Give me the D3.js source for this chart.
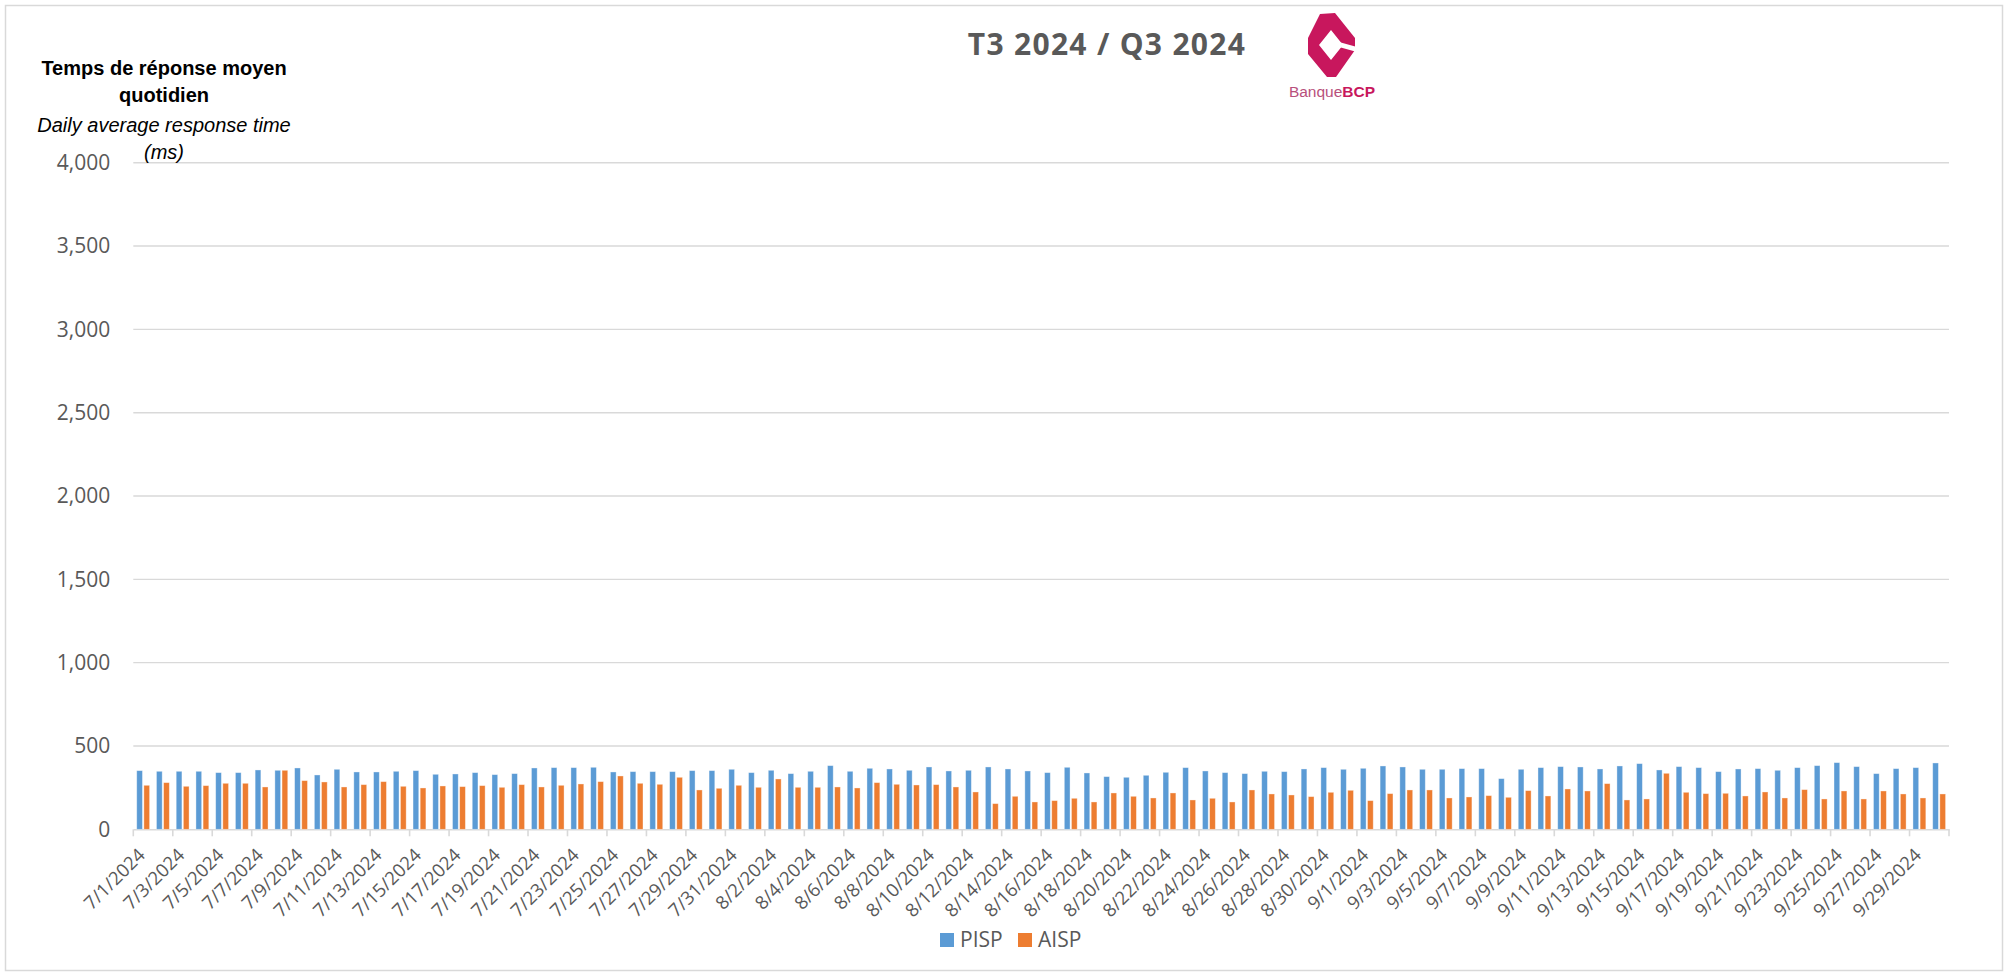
<!DOCTYPE html>
<html>
<head>
<meta charset="utf-8">
<script src="https://cdn.jsdelivr.net/npm/d3@7"></script>
<style>
  body { margin: 0; background: #fff; }
  svg { display: block; }
</style>
</head>
<body>
<script>
'use strict';

(function() {

  // categories: one per day, T3 / Q3 2024
  const dates = [
    "7/1/2024","7/2/2024","7/3/2024","7/4/2024","7/5/2024","7/6/2024","7/7/2024","7/8/2024",
    "7/9/2024","7/10/2024","7/11/2024","7/12/2024","7/13/2024","7/14/2024","7/15/2024","7/16/2024",
    "7/17/2024","7/18/2024","7/19/2024","7/20/2024","7/21/2024","7/22/2024","7/23/2024","7/24/2024",
    "7/25/2024","7/26/2024","7/27/2024","7/28/2024","7/29/2024","7/30/2024","7/31/2024",
    "8/1/2024","8/2/2024","8/3/2024","8/4/2024","8/5/2024","8/6/2024","8/7/2024","8/8/2024",
    "8/9/2024","8/10/2024","8/11/2024","8/12/2024","8/13/2024","8/14/2024","8/15/2024","8/16/2024",
    "8/17/2024","8/18/2024","8/19/2024","8/20/2024","8/21/2024","8/22/2024","8/23/2024","8/24/2024",
    "8/25/2024","8/26/2024","8/27/2024","8/28/2024","8/29/2024","8/30/2024","8/31/2024",
    "9/1/2024","9/2/2024","9/3/2024","9/4/2024","9/5/2024","9/6/2024","9/7/2024","9/8/2024",
    "9/9/2024","9/10/2024","9/11/2024","9/12/2024","9/13/2024","9/14/2024","9/15/2024","9/16/2024",
    "9/17/2024","9/18/2024","9/19/2024","9/20/2024","9/21/2024","9/22/2024","9/23/2024","9/24/2024",
    "9/25/2024","9/26/2024","9/27/2024","9/28/2024","9/29/2024","9/30/2024"
  ];

  // daily average response time (ms)
  const pisp = [
    352, 348, 348, 348, 340, 340, 356, 354, 368, 326, 360, 344, 344, 348, 352, 330,
    332, 340, 328, 334, 368, 370, 370, 372, 344, 346, 346, 346, 352, 352, 360,
    340, 354, 334, 348, 382, 348, 366, 362, 354, 374, 350, 354, 374, 362, 350, 340,
    372, 338, 316, 312, 324, 342, 370, 350, 340, 334, 348, 346, 362, 370, 360,
    366, 380, 374, 360, 360, 364, 364, 304, 360, 370, 376, 374, 362, 380, 394, 356,
    376, 370, 346, 362, 364, 354, 370, 382, 400, 376, 334, 364, 370, 398
  ];

  const aisp = [
    264, 280, 258, 262, 276, 276, 254, 354, 292, 284, 254, 268, 286, 258, 248, 260,
    256, 262, 252, 268, 254, 264, 272, 286, 320, 276, 270, 312, 236, 246, 264,
    252, 302, 252, 252, 254, 248, 280, 270, 266, 268, 254, 224, 154, 198, 164, 172,
    186, 164, 218, 198, 188, 218, 176, 186, 164, 236, 212, 206, 196, 222, 234,
    172, 214, 236, 236, 188, 194, 202, 192, 232, 200, 242, 230, 274, 176, 182, 336,
    222, 214, 216, 200, 224, 188, 238, 182, 230, 182, 230, 212, 188, 212
  ];

  const seriesNames = ["PISP", "AISP"];
  const yTicks = [0, 500, 1000, 1500, 2000, 2500, 3000, 3500, 4000];

  const colors = { "PISP": "#5B9BD5", "AISP": "#ED7D31" };
  const gray = "#595959";
  const tickFont = "'Open Sans', 'Noto Sans', sans-serif";

  let svg = "";

  window.onload = function() {
    svg = d3.select('body')
      .append('svg')
      .attr('width', 2009)
      .attr('height', 976);

    // chart frame
    svg.append('rect')
      .attr('x', 5.5).attr('y', 5.5)
      .attr('width', 1997).attr('height', 965)
      .attr('fill', '#fff')
      .attr('stroke', '#d9d9d9')
      .attr('stroke-width', 1.5);

    let scales = drawAxes();
    plotData(scales);
    makeLabels();
    makeLogo();
    makeLegend();
  }

  function drawAxes() {
    let xScale = d3.scaleBand()
      .domain(dates)
      .range([133.3, 1949])
      .padding(0);

    let yScale = d3.scaleLinear()
      .domain([0, 4000])
      .range([829.3, 162.7]);

    // horizontal gridlines
    svg.append('g')
      .selectAll('line')
      .data(yTicks.slice(1))
      .enter()
      .append('line')
        .attr('x1', 133.3)
        .attr('x2', 1949)
        .attr('y1', (d) => yScale(d))
        .attr('y2', (d) => yScale(d))
        .attr('stroke', '#d9d9d9')
        .attr('stroke-width', 1.4);

    // y axis labels
    let yAxis = d3.axisLeft(yScale)
      .tickValues(yTicks)
      .tickFormat(d3.format(','))
      .tickSize(0)
      .tickPadding(23);
    let yg = svg.append('g')
      .attr('transform', 'translate(133.3, 0)')
      .call(yAxis);
    yg.select('.domain').remove();
    yg.selectAll('text')
      .style('font-family', tickFont)
      .style('font-size', '21px')
      .attr('fill', gray);

    // x axis: labels on every other day
    let xAxis = d3.axisBottom(xScale)
      .tickValues(dates.filter((d, i) => i % 2 == 0))
      .tickSize(0)
      .tickPadding(0);
    let xg = svg.append('g')
      .attr('transform', 'translate(0, 829.3)')
      .call(xAxis);
    xg.select('.domain')
      .attr('stroke', '#d9d9d9')
      .attr('stroke-width', 1.6);
    xg.selectAll('text')
      .style('font-family', tickFont)
      .style('font-size', '18.5px')
      .attr('fill', gray)
      .attr('text-anchor', 'end')
      .attr('y', 0)
      .attr('dy', 0)
      .attr('transform', 'translate(3, 27) rotate(-45)');

    // tick marks on the boundaries between pairs of days
    let bounds = dates.filter((d, i) => i % 2 == 0).map((d) => xScale(d));
    bounds.push(xScale.range()[1]);
    xg.selectAll('.bound')
      .data(bounds)
      .enter()
      .append('line')
        .attr('class', 'bound')
        .attr('x1', (d) => d)
        .attr('x2', (d) => d)
        .attr('y1', 0)
        .attr('y2', 7)
        .attr('stroke', '#d9d9d9')
        .attr('stroke-width', 1.6);

    return { x: xScale, y: yScale };
  }

  function plotData(map) {
    let xSub = d3.scaleBand()
      .domain(seriesNames)
      .range([0, map.x.bandwidth()])
      .paddingInner(0.2)
      .paddingOuter(0.48);

    let rows = dates.map((d, i) => ({ date: d, PISP: pisp[i], AISP: aisp[i] }));

    let groups = svg.append('g')
      .selectAll('g')
      .data(rows)
      .enter()
      .append('g')
        .attr('transform', (d) => 'translate(' + map.x(d.date) + ',0)');

    groups.selectAll('rect')
      .data((d) => seriesNames.map((s) => ({ key: s, value: d[s] })))
      .enter()
      .append('rect')
        .attr('x', (d) => xSub(d.key))
        .attr('width', xSub.bandwidth())
        .attr('y', (d) => map.y(d.value))
        .attr('height', (d) => map.y(0) - map.y(d.value))
        .attr('fill', (d) => colors[d.key])
        .attr('stroke', 'rgba(255,255,255,0.45)')
        .attr('stroke-width', 0.8);
  }

  function makeLabels() {
    svg.append('text')
      .attr('x', 1107)
      .attr('y', 55)
      .attr('text-anchor', 'middle')
      .style('font-family', tickFont)
      .style('font-weight', 'bold')
      .style('font-size', '30px')
      .style('letter-spacing', '1.3px')
      .attr('fill', gray)
      .text('T3 2024 / Q3 2024');

    // axis title
    let t = svg.append('g')
      .attr('transform', 'translate(164, 0)')
      .style('font-family', "'Liberation Sans', Arial, sans-serif")
      .style('font-size', '20px')
      .attr('text-anchor', 'middle')
      .attr('fill', '#000');
    t.append('text').attr('y', 75).style('font-weight', 'bold').text('Temps de réponse moyen');
    t.append('text').attr('y', 102).style('font-weight', 'bold').text('quotidien');
    t.append('text').attr('y', 132).style('font-style', 'italic').text('Daily average response time');
    t.append('text').attr('y', 159).style('font-style', 'italic').text('(ms)');
  }

  function makeLogo() {
    let logo = svg.append('g');
    const magenta = "#C8175D";

    // diamond ring
    logo.append('path')
      .attr('d', 'M1320,14 L1335,13 L1355,38 L1355,50 L1336,77 L1327,77 L1308,54 L1308,38 Z' +
                 'M1331,30 L1319,45 L1331,60 L1343,45 Z')
      .attr('fill', magenta)
      .attr('fill-rule', 'evenodd');
    // gap on the right side
    logo.append('path')
      .attr('d', 'M1339,42 L1357,47 L1357,52 L1339,47 Z')
      .attr('fill', '#fff');

    let lt = svg.append('text')
      .attr('x', 1332)
      .attr('y', 97)
      .attr('text-anchor', 'middle')
      .style('font-family', "'Liberation Sans', Arial, sans-serif")
      .style('font-size', '15.5px');
    lt.append('tspan').attr('fill', '#B8507C').text('Banque');
    lt.append('tspan').attr('fill', magenta).style('font-weight', 'bold').text('BCP');
  }

  function makeLegend() {
    let items = [
      { name: "PISP", x: 940 },
      { name: "AISP", x: 1018 }
    ];
    let legend = svg.append('g');
    let g = legend.selectAll('g')
      .data(items)
      .enter()
      .append('g')
        .attr('transform', (d) => 'translate(' + d.x + ', 933)');
    g.append('rect')
      .attr('width', 14)
      .attr('height', 14)
      .attr('fill', (d) => colors[d.name]);
    g.append('text')
      .attr('x', 20)
      .attr('y', 14)
      .style('font-family', tickFont)
      .style('font-size', '21px')
      .attr('fill', gray)
      .text((d) => d.name);
  }

})();
</script>
</body>
</html>
